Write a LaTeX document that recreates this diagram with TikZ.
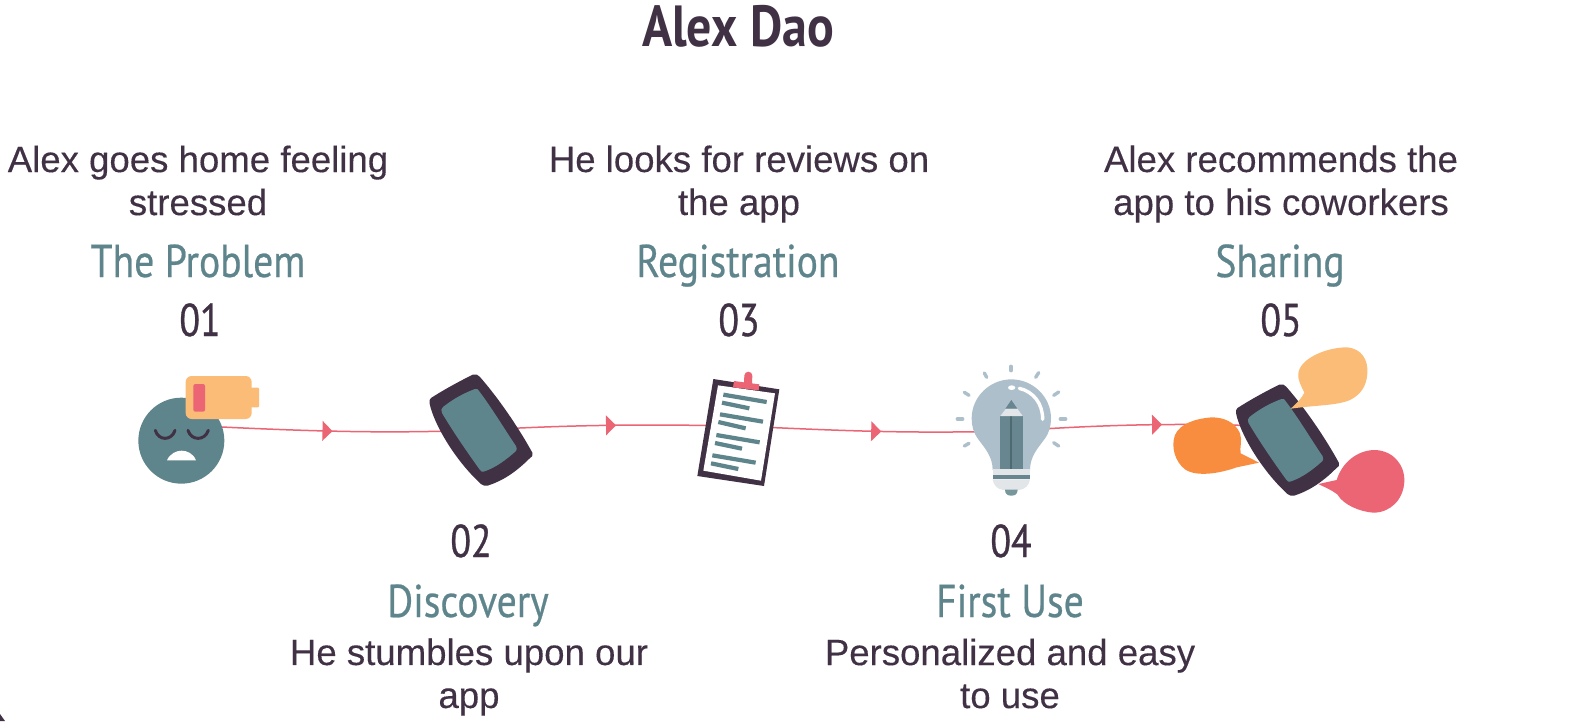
\documentclass[tikz,border=0pt]{standalone}
\usepackage{fontspec}
\usetikzlibrary{decorations.markings}
\setmainfont[FakeBold=0.25]{Liberation Sans}
\newfontfamily\handfont[FakeStretch=0.86,FakeBold=0.5]{PT Sans}
\newfontfamily\numfont[FakeStretch=0.82,FakeBold=0.7]{PT Sans}
\newfontfamily\titlefont[FakeStretch=0.86]{PT Sans Bold}
\definecolor{ink}{HTML}{403145}
\definecolor{tealc}{HTML}{5F858C}
\definecolor{redc}{HTML}{EB6574}
\definecolor{peach}{HTML}{FBBC78}
\definecolor{orangec}{HTML}{F98D3F}
\definecolor{bulbc}{HTML}{AEBFCC}
\definecolor{paleg}{HTML}{E2E6E9}
\definecolor{pencil}{HTML}{67868F}
\tikzset{
  x=1pt,y=-1pt,
  flow/.style={draw=redc,line width=1.5pt,
    decoration={markings,mark=at position #1 with {\fill[redc] (-5,-10)--(5,0)--(-5,10)--cycle;}},
    postaction={decorate}},
  body/.style={text=ink,align=center,font=\fontsize{36.6}{43}\selectfont},
  stage/.style={text=tealc,anchor=base,font=\handfont\fontsize{46}{50}\selectfont},
  num/.style={text=ink,anchor=base,font=\numfont\fontsize{46}{50}\selectfont},
  headline/.style={text=ink,font=\titlefont\fontsize{58}{60}\selectfont},
  zoomA/.style={shift={(120,350)},scale=0.33333},
  zoomB/.style={shift={(660,350)},scale=0.33333},
  zoomC/.style={shift={(1130,340)},scale=0.33333},
  noteline/.style={draw=tealc,line width=4.2pt},
  ray/.style={draw=bulbc,line width=3.4pt,line cap=round},
  phoneicon/.pic={
    \fill[ink] (431,398) .. controls (445,389) and (460,381) .. (473,374.5)
      .. controls (476,373.5) and (478,375) .. (480,377)
      .. controls (500,400) and (520,430) .. (532.5,453)
      .. controls (533,456) and (532,457) .. (530,458)
      .. controls (518,470) and (505,480) .. (488,485.5)
      .. controls (485,486.5) and (483,485.5) .. (481,484)
      .. controls (460,465) and (440,435) .. (432,412)
      .. controls (430,406) and (428,400) .. (431,398) -- cycle;
    \fill[tealc] (443,407) .. controls (453,399) and (464,393) .. (475,389)
      .. controls (477,388.5) and (478,389) .. (479,391)
      .. controls (492,408) and (505,430) .. (516,446)
      .. controls (517,448) and (517,450) .. (516,451)
      .. controls (506,460) and (495,468) .. (484,471.5)
      .. controls (482,472) and (481,471.5) .. (480,470)
      .. controls (467,452) and (452,430) .. (442,413)
      .. controls (441,410) and (441,409) .. (443,407) -- cycle;
  }
}
\begin{document}
\begin{tikzpicture}
\useasboundingbox (0,0) rectangle (1570,721);
\fill[white] (0,0) rectangle (1570,721);
\fill[ink] (0,714) -- (5,721) -- (0,721) -- cycle;

% anchor points of the icons
\coordinate (face) at (181,425);
\coordinate (phoneA) at (480,430);
\coordinate (clip) at (737,426);
\coordinate (bulb) at (1010,431);
\coordinate (phoneB) at (1285,427);

% connectors
\path[flow=0.49] (face) .. controls (300,431) and (380,434) .. (phoneA);
\path[flow=0.51] (phoneA) .. controls (570,425) and (640,424) .. (clip);
\path[flow=0.51] (clip) .. controls (830,430) and (900,434) .. (bulb);
\path[flow=0.535] (bulb) .. controls (1100,425) and (1180,422) .. (phoneB);

% 01 face and battery
\begin{scope}[zoomA]
\fill[tealc] (184,272) circle (129);
\draw[ink,line width=3pt,line cap=round] (106,241) .. controls (115,273) and (155,273) .. (165,241);
\draw[ink,line width=3pt,line cap=round] (204,241) .. controls (213,273) and (255,273) .. (265,241);
\fill[white] (141,331) .. controls (150,310) and (170,302) .. (185,302) .. controls (200,302) and (220,310) .. (228,331) -- cycle;
\fill[peach,rounded corners=1pt] (385,113) rectangle (417,172);
\fill[peach,rounded corners=6pt] (197,78) rectangle (395,207);
\fill[redc,rounded corners=2pt] (220,102) rectangle (255,185);
\end{scope}

% 02 phone
\pic at (0,0) {phoneicon};

% 03 clipboard
\begin{scope}[zoomB]
\fill[ink] (160,87) -- (358,118) -- (312,408) -- (112,378) -- cycle;
\fill[white] (174,106) -- (345,130) -- (303,392) -- (130,362) -- cycle;
\draw[redc,line width=8pt,line cap=round] (265,77) -- (264,100);
\fill[redc] (222,93) -- (298,103) -- (296,121) -- (219,112) -- cycle;
\foreach \xa/\ya/\xb/\yb in {190/134/320/156,186/158/268/175,180/193/309/215,175/216/257/235,169/255/299/277,165/279/246/296,157/316/287/338,153/340/235/357}
  \draw[noteline] (\xa,\ya) -- (\xb,\yb);
\end{scope}

% 04 bulb
\begin{scope}[zoomB]
\fill[bulbc] (998,360) .. controls (998,320) and (975,295) .. (955,268)
  .. controls (940,248) and (935,228) .. (935,205)
  .. controls (935,140) and (990,88) .. (1054,88)
  .. controls (1118,88) and (1173,140) .. (1173,205)
  .. controls (1173,228) and (1168,248) .. (1153,268)
  .. controls (1133,295) and (1110,320) .. (1110,360) -- cycle;
\fill[pencil] (1021,198) rectangle (1088,357);
\fill[tealc!80!black] (1051,198) rectangle (1057,357);
\fill[paleg] (1021,198) -- (1038,176) -- (1072,176) -- (1088,198) -- cycle;
\fill[pencil] (1054,150) -- (1036,176) -- (1072,176) -- cycle;
\fill[paleg] (998,357) rectangle (1110,376);
\fill[pencil] (998,376) rectangle (1110,388);
\fill[paleg] (998,388) -- (1110,388) .. controls (1108,405) and (1095,418) .. (1078,420) -- (1030,420) .. controls (1012,418) and (1000,405) .. (998,388) -- cycle;
\fill[tealc!85!white] (1035,419) -- (1073,419) .. controls (1073,432) and (1065,437) .. (1054,437) .. controls (1043,437) and (1035,432) .. (1035,419) -- cycle;
\fill[white] (1055,113) ellipse [x radius=11, y radius=7];
\draw[white,line width=3.4pt,line cap=round] (1078,115) .. controls (1120,125) and (1148,160) .. (1148,208);
\foreach \xa/\ya/\xb/\yb in {1053/49/1053/62,973/69/980/82,1136/68/1127/82,913/127/927/136,1196/126/1181/136,892/207/908/207,1201/207/1217/207,913/288/927/280,1196/288/1181/278}
  \draw[ray] (\xa,\ya) -- (\xb,\yb);
\end{scope}

% 05 phone and speech bubbles
\pic at (806.5,10) {phoneicon};
\begin{scope}[zoomC]
\fill[peach] (482,206) .. controls (500,190) and (515,175) .. (523,158)
  .. controls (512,135) and (503,120) .. (505,100)
  .. controls (510,55) and (590,22) .. (650,22)
  .. controls (695,25) and (715,60) .. (712,100)
  .. controls (710,140) and (690,165) .. (660,180)
  .. controls (620,197) and (560,195) .. (482,206) -- cycle;
\fill[orangec] (387,368) -- (332,340) .. controls (328,325) and (338,300) .. (330,280)
  .. controls (315,245) and (280,232) .. (245,232)
  .. controls (200,235) and (150,250) .. (135,285)
  .. controls (122,320) and (135,365) .. (165,388)
  .. controls (200,412) and (270,400) .. (320,382) -- cycle;
\fill[redc] (565,432) -- (620,420) .. controls (635,370) and (680,330) .. (735,330)
  .. controls (790,332) and (825,375) .. (823,425)
  .. controls (820,480) and (780,518) .. (730,518)
  .. controls (690,515) and (640,495) .. (622,463)
  .. controls (605,450) and (585,442) .. (565,432) -- cycle;
\end{scope}

% texts
\node[headline] (title) at (738,26) {Alex Dao};

\node[body] (t1) at (198,180.5) {Alex goes home feeling\\stressed};
\node[stage] (s1) at (198,277) {The Problem};
\node[num] (n1) at (200,336) {01};

\node[num] (n2) at (471,557) {02};
\node[stage] (s2) at (468,617) {Discovery};
\node[body] (t2) at (469,677) {He stumbles upon our\\app};

\node[body] (t3) at (739,184) {He looks for reviews on\\the app};
\node[stage] (s3) at (738,277) {Registration};
\node[num] (n3) at (739,336) {03};

\node[num] (n4) at (1011,557) {04};
\node[stage] (s4) at (1010,617) {First Use};
\node[body] (t4) at (1010,673.5) {Personalized and easy\\to use};

\node[body] (t5) at (1281,184) {Alex recommends the\\app to his coworkers};
\node[stage] (s5) at (1280,277) {Sharing};
\node[num] (n5) at (1281,336) {05};
\end{tikzpicture}
\end{document}
